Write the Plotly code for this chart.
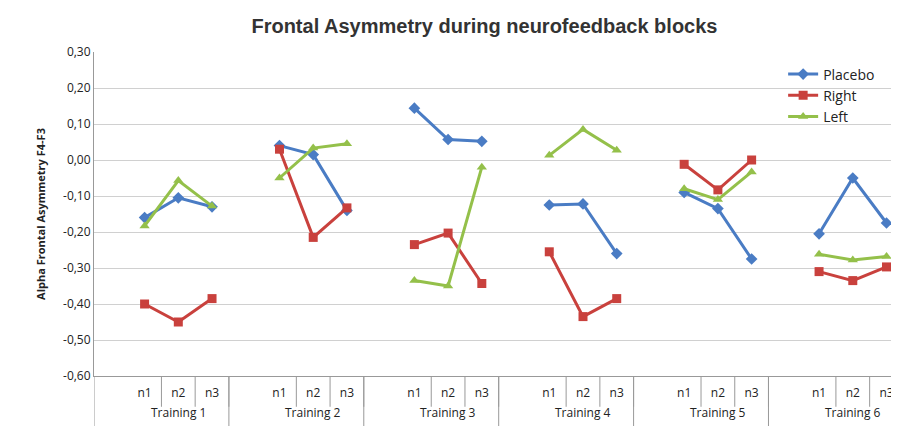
import plotly.graph_objects as go

trainings = ["Training 1", "Training 2", "Training 3", "Training 4", "Training 5", "Training 6"]
sessions = ["n1", "n2", "n3"]
placebo = [-0.16, -0.105, -0.13, 0.04, 0.015, -0.14, 0.144, 0.057, 0.052,
           -0.125, -0.122, -0.26, -0.09, -0.135, -0.275, -0.205, -0.05, -0.175]
right = [-0.40, -0.45, -0.385, 0.03, -0.215, -0.133, -0.235, -0.203, -0.343,
         -0.255, -0.435, -0.385, -0.012, -0.083, 0.0, -0.31, -0.335, -0.297]
left = [-0.183, -0.057, -0.128, -0.05, 0.033, 0.045, -0.335, -0.35, -0.02,
        0.013, 0.085, 0.027, -0.08, -0.11, -0.033, -0.262, -0.278, -0.268]
y_ticks = [0.3, 0.2, 0.1, 0.0, -0.1, -0.2, -0.3, -0.4, -0.5, -0.6]
y_labels = ["0,30", "0,20", "0,10", "0,00", "-0,10", "-0,20", "-0,30", "-0,40", "-0,50", "-0,60"]


def split(vals):
    # slot layout: [gap, n1, n2, n3] per training; None breaks the line
    xs, ys = [], []
    for g in range(len(trainings)):
        for i in range(3):
            xs.append(4 * g + 1 + i)
            ys.append(vals[3 * g + i])
        xs.append(None)
        ys.append(None)
    return xs, ys


fig = go.Figure()
for name, vals, color, sym in [("Placebo", placebo, "#4a7cc4", "diamond"),
                               ("Right", right, "#c9413d", "square"),
                               ("Left", left, "#94c04a", "triangle-up")]:
    xs, ys = split(vals)
    fig.add_trace(go.Scatter(x=xs, y=ys, name=name, mode="lines+markers",
                             line=dict(color=color, width=3),
                             marker=dict(symbol=sym, size=9, color=color)))

tickvals = [4 * g + 1 + i for g in range(len(trainings)) for i in range(3)]
ticktext = sessions * len(trainings)

shapes = []
for g in range(len(trainings)):
    shapes.append(dict(type="line", xref="x", yref="paper", x0=4 * g - 0.5, x1=4 * g - 0.5,
                       y0=0, y1=-0.18, line=dict(color="#999", width=1)))
    for i in range(3):
        shapes.append(dict(type="line", xref="x", yref="paper", x0=4 * g + 1.5 + i, x1=4 * g + 1.5 + i,
                           y0=0, y1=-0.095, line=dict(color="#999", width=1)))

annotations = [dict(x=4 * g + 2, y=-0.145, xref="x", yref="paper", text=t, showarrow=False,
                    font=dict(size=12, color="#222"))
               for g, t in enumerate(trainings)]

fig.update_layout(
    width=899, height=426,
    margin=dict(l=86, r=7, t=44, b=58),
    paper_bgcolor="white", plot_bgcolor="white",
    font=dict(family="Open Sans, Arial", size=12, color="#222"),
    title=dict(text="<b>Frontal Asymmetry during neurofeedback blocks</b>", x=0.53, y=0.975,
               xanchor="center", font=dict(family="Liberation Sans, Arial", size=20, color="#333")),
    xaxis=dict(range=[-0.5, 23.4], tickvals=tickvals, ticktext=ticktext, showgrid=False,
               zeroline=False, showline=True, linecolor="#999", ticks="", ticklabelstandoff=6),
    yaxis=dict(range=[-0.6, 0.3], tickvals=y_ticks, ticktext=y_labels,
               gridcolor="#d0d0d0", zeroline=False, showline=True, linecolor="#999",
               title=dict(text="<b>Alpha Frontal Asymmetry F4-F3</b>", font=dict(size=11)),
               tickfont=dict(size=12)),
    legend=dict(x=0.855, y=0.98, xanchor="left", yanchor="top", font=dict(size=14),
                bgcolor="rgba(0,0,0,0)"),
    shapes=shapes, annotations=annotations,
)
fig.write_html("out.html")
